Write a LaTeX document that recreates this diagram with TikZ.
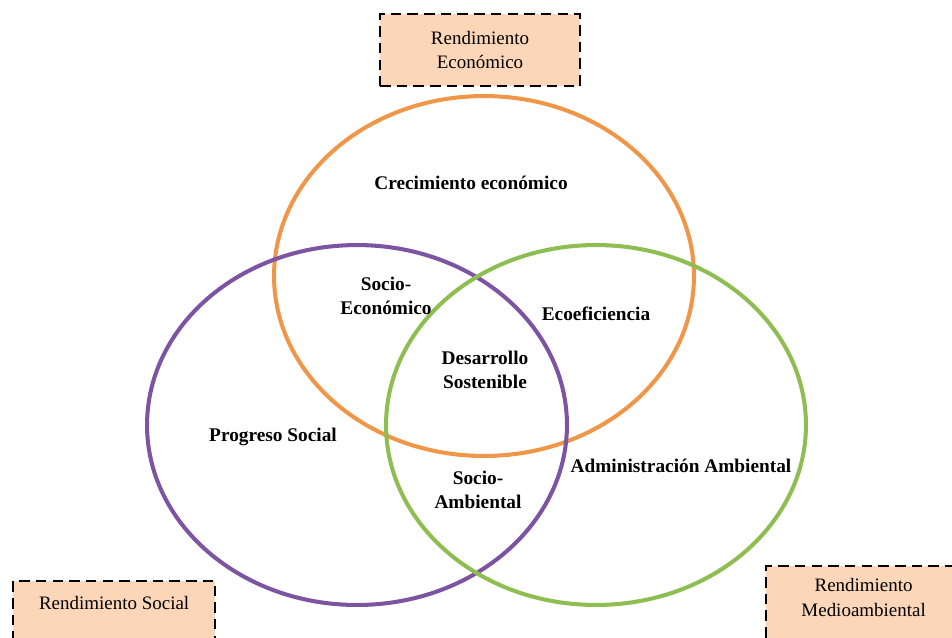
\documentclass[tikz,border=0pt]{standalone}
\usepackage{fontspec}
\setmainfont{Liberation Serif}
\usepackage{tikz}
\usetikzlibrary{shapes,positioning}

\definecolor{econ}{RGB}{240,150,72}
\definecolor{soc}{RGB}{124,84,162}
\definecolor{amb}{RGB}{142,190,82}
\definecolor{boxfill}{RGB}{251,214,184}

\begin{document}
\begin{tikzpicture}[x=0.02cm,y=-0.02cm,
	area/.style={shape=ellipse,draw,line width=2.3pt,minimum width=8.4cm,minimum height=7.2cm,inner sep=0pt},
	rend/.style={draw,dashed,line width=1.3pt,dash pattern=on 6pt off 3.5pt,fill=boxfill,align=center,inner sep=0pt,font=\fontsize{10.8}{14}\selectfont},
	lbl/.style={align=center,font=\fontsize{11}{14}\selectfont\bfseries}]
	\useasboundingbox (0,0) rectangle (952,637);

	\node[area,draw=econ] (eco) at (484,276) {};
	\node[area,draw=soc] (social) at (357,425) {};
	\node[area,draw=amb] (ambiental) at (596,425) {};

	\node[rend,minimum width=4cm,minimum height=1.44cm] (rEco) at (480,50) {Rendimiento\\Económico};
	\node[rend,anchor=north west] (rSoc) at (12,580)
		{\parbox[t][1.6cm][t]{4.04cm}{\centering\vspace{0.3cm}Rendimiento Social}};
	\node[rend,anchor=north west] (rAmb) at (765,565)
		{\parbox[t][2cm][t]{3.9cm}{\centering\vspace{0.25cm}Rendimiento\\Medioambiental}};

	\node[lbl] (crec) at (471,183) {Crecimiento económico};
	\node[lbl] (socEco) at (386,296) {Socio-\\Económico};
	\node[lbl] (ecoef) at (596,314) {Ecoeficiencia};
	\node[lbl] (desa) at (485,370) {Desarrollo\\Sostenible};
	\node[lbl] (prog) at (273,437) {Progreso Social};
	\node[lbl] (admin) at (681,466) {Administración Ambiental};
	\node[lbl] (socAmb) at (478,490) {Socio-\\Ambiental};
\end{tikzpicture}
\end{document}
